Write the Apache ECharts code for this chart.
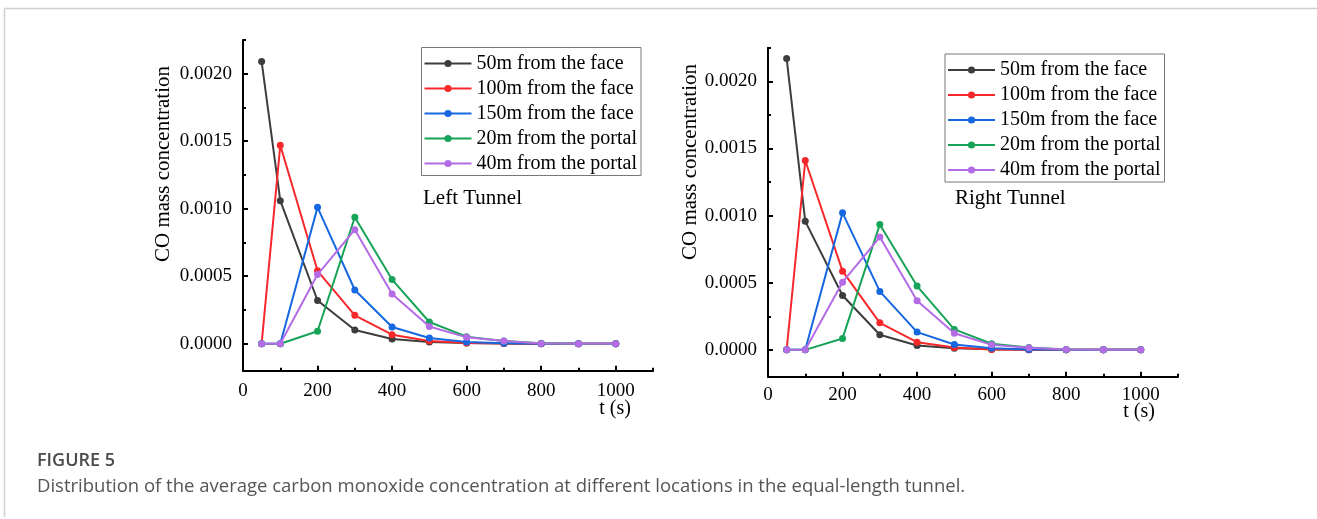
<!DOCTYPE html>
<html>
<head>
<meta charset="utf-8">
<script src="https://cdn.jsdelivr.net/npm/echarts@6/dist/echarts.min.js"></script>
<style>
  html, body { margin: 0; padding: 0; background: #fff; }
  #chart { width: 1317px; height: 519px; }
</style>
</head>
<body>
<div id="chart"></div>
<script>
// ---- data ----
const times = [50, 100, 200, 300, 400, 500, 600, 700, 800, 900, 1000];
const seriesNames = ['50m from the face', '100m from the face', '150m from the face', '20m from the portal', '40m from the portal'];

// Left tunnel
const leftFace50    = [0.00209, 0.00106, 0.00032, 0.000101, 0.000035, 0.000012, 0.000005, 0.000001, 0, 0, 0];
const leftFace100   = [0, 0.00147, 0.00054, 0.00021, 0.000067, 0.00002, 0.000005, 0.000001, 0, 0, 0];
const leftFace150   = [0, 0, 0.00101, 0.000398, 0.000124, 0.000042, 0.000012, 0.000003, 0, 0, 0];
const leftPortal20  = [0, 0, 0.000092, 0.000937, 0.000475, 0.000161, 0.000052, 0.00002, 0.000003, 0, 0];
const leftPortal40  = [0, 0, 0.000512, 0.000845, 0.000368, 0.000128, 0.000047, 0.00002, 0.000002, 0, 0];

// Right tunnel
const rightFace50   = [0.00217, 0.000957, 0.000405, 0.000112, 0.000032, 0.000012, 0.000004, 0.000001, 0, 0, 0];
const rightFace100  = [0, 0.00141, 0.000586, 0.000201, 0.000057, 0.000017, 0.000002, 0, 0, 0, 0];
const rightFace150  = [0, 0, 0.00102, 0.000435, 0.000132, 0.00004, 0.000012, 0.000002, 0, 0, 0];
const rightPortal20 = [0, 0, 0.000085, 0.000934, 0.000475, 0.000152, 0.000045, 0.000017, 0.000002, 0, 0];
const rightPortal40 = [0, 0, 0.000504, 0.00084, 0.000365, 0.000124, 0.000037, 0.000015, 0.000002, 0, 0];

// tick labels
const xMajorTicks = [0, 200, 400, 600, 800, 1000];
const xMinorTicks = [100, 300, 500, 700, 900, 1100];
const yMajorTicks = [0, 0.0005, 0.001, 0.0015, 0.002];
const yMinorTicks = [-0.00025, 0.00025, 0.00075, 0.00125, 0.00175, 0.00225];

const colors = ['#3d3d3d', '#f7282b', '#1668e0', '#17a458', '#b46ce6'];
const SERIF = '"Liberation Serif", "Times New Roman", serif';

const leftData = [leftFace50, leftFace100, leftFace150, leftPortal20, leftPortal40];
const rightData = [rightFace50, rightFace100, rightFace150, rightPortal20, rightPortal40];

const grids = [
  { left: 243, top: 40, width: 410, height: 330.7 },
  { left: 768, top: 47.7, width: 410, height: 329 }
];

function xAxes(gi, margin) {
  return [
    {
      type: 'value', gridIndex: gi, position: 'bottom', min: 0, max: 1100,
      axisLine: { show: true, onZero: false, lineStyle: { color: '#000', width: 2 } },
      axisTick: { show: true, inside: true, length: 5, customValues: xMajorTicks, lineStyle: { color: '#000', width: 2 } },
      axisLabel: { customValues: xMajorTicks, color: '#000', fontFamily: SERIF, fontSize: 19, margin: margin,
                   formatter: v => String(v) },
      splitLine: { show: false }
    },
    {
      type: 'value', gridIndex: gi, position: 'bottom', min: 0, max: 1100,
      axisLine: { show: false, onZero: false },
      axisTick: { show: true, inside: true, length: 3, customValues: xMinorTicks, lineStyle: { color: '#000', width: 2 } },
      axisLabel: { show: false },
      splitLine: { show: false }
    }
  ];
}
function yAxes(gi) {
  return [
    {
      type: 'value', gridIndex: gi, position: 'left', min: -0.0002, max: 0.00225,
      axisLine: { show: true, onZero: false, lineStyle: { color: '#000', width: 2 } },
      axisTick: { show: true, inside: true, length: 5, customValues: yMajorTicks, lineStyle: { color: '#000', width: 2 } },
      axisLabel: { customValues: yMajorTicks, color: '#000', fontFamily: SERIF, fontSize: 19, margin: 11,
                   formatter: v => v.toFixed(4) },
      splitLine: { show: false }
    },
    {
      type: 'value', gridIndex: gi, position: 'left', min: -0.0002, max: 0.00225,
      axisLine: { show: false, onZero: false },
      axisTick: { show: true, inside: true, length: 3, customValues: yMinorTicks, lineStyle: { color: '#000', width: 2 } },
      axisLabel: { show: false },
      splitLine: { show: false }
    }
  ];
}

function makeSeries(dataSets, xIdx, yIdx) {
  return dataSets.map((vals, i) => ({
    name: seriesNames[i],
    type: 'line',
    xAxisIndex: xIdx, yAxisIndex: yIdx,
    data: times.map((t, k) => [t, vals[k]]),
    symbol: 'circle', symbolSize: 7,
    showSymbol: true,
    lineStyle: { color: colors[i], width: 2 },
    itemStyle: { color: colors[i] },
    z: 2 + i,
    animation: false
  }));
}

function legend(left, top) {
  return {
    data: seriesNames, orient: 'vertical', left: left, top: top,
    itemWidth: 47, itemHeight: 9, itemGap: 5,
    padding: [6, 4, 2, 2],
    borderColor: '#777', borderWidth: 1,
    textStyle: { color: '#000', fontFamily: SERIF, fontSize: 20, lineHeight: 20 },
    selectedMode: false
  };
}

const chart = echarts.init(document.getElementById('chart'), null, { renderer: 'canvas' });
chart.setOption({
  backgroundColor: '#fff',
  animation: false,
  color: colors,
  grid: grids,
  xAxis: [...xAxes(0, 11), ...xAxes(1, 9)],
  yAxis: [...yAxes(0), ...yAxes(1)],
  legend: [legend(421.5, 47.5), legend(945, 54)],
  series: [...makeSeries(leftData, 0, 0), ...makeSeries(rightData, 2, 2)],
  graphic: [
    // figure frame
    { type: 'line', shape: { x1: 4.5, y1: 8.5, x2: 1317, y2: 8.5 }, style: { stroke: '#cfcfcf', lineWidth: 1.5 } },
    { type: 'line', shape: { x1: 4.5, y1: 8.5, x2: 4.5, y2: 517 }, style: { stroke: '#cfcfcf', lineWidth: 1.5 } },
    // axis names
    { type: 'text', x: 163.5, y: 164, rotation: Math.PI / 2,
      style: { text: 'CO mass concentration', font: '21px ' + SERIF, fill: '#000', align: 'center', verticalAlign: 'middle' } },
    { type: 'text', x: 690, y: 162, rotation: Math.PI / 2,
      style: { text: 'CO mass concentration', font: '21px ' + SERIF, fill: '#000', align: 'center', verticalAlign: 'middle' } },
    { type: 'text', x: 615, y: 409,
      style: { text: 't (s)', font: '20px ' + SERIF, fill: '#000', align: 'center', verticalAlign: 'middle' } },
    { type: 'text', x: 1139, y: 412,
      style: { text: 't (s)', font: '20px ' + SERIF, fill: '#000', align: 'center', verticalAlign: 'middle' } },
    // panel labels
    { type: 'text', x: 423, y: 198,
      style: { text: 'Left Tunnel', font: '21px ' + SERIF, fill: '#000', align: 'left', verticalAlign: 'middle' } },
    { type: 'text', x: 955, y: 198,
      style: { text: 'Right Tunnel', font: '21px ' + SERIF, fill: '#000', align: 'left', verticalAlign: 'middle' } },
    // caption
    { type: 'text', x: 37, y: 461,
      style: { text: 'FIGURE 5', font: '600 18px "Open Sans", sans-serif', fill: '#4a4a4a', align: 'left', verticalAlign: 'middle' } },
    { type: 'text', x: 37, y: 487,
      style: { text: 'Distribution of the average carbon monoxide concentration at different locations in the equal-length tunnel.',
               font: '18.5px "Open Sans", sans-serif', fill: '#555', align: 'left', verticalAlign: 'middle' } }
  ]
});
</script>
</body>
</html>
